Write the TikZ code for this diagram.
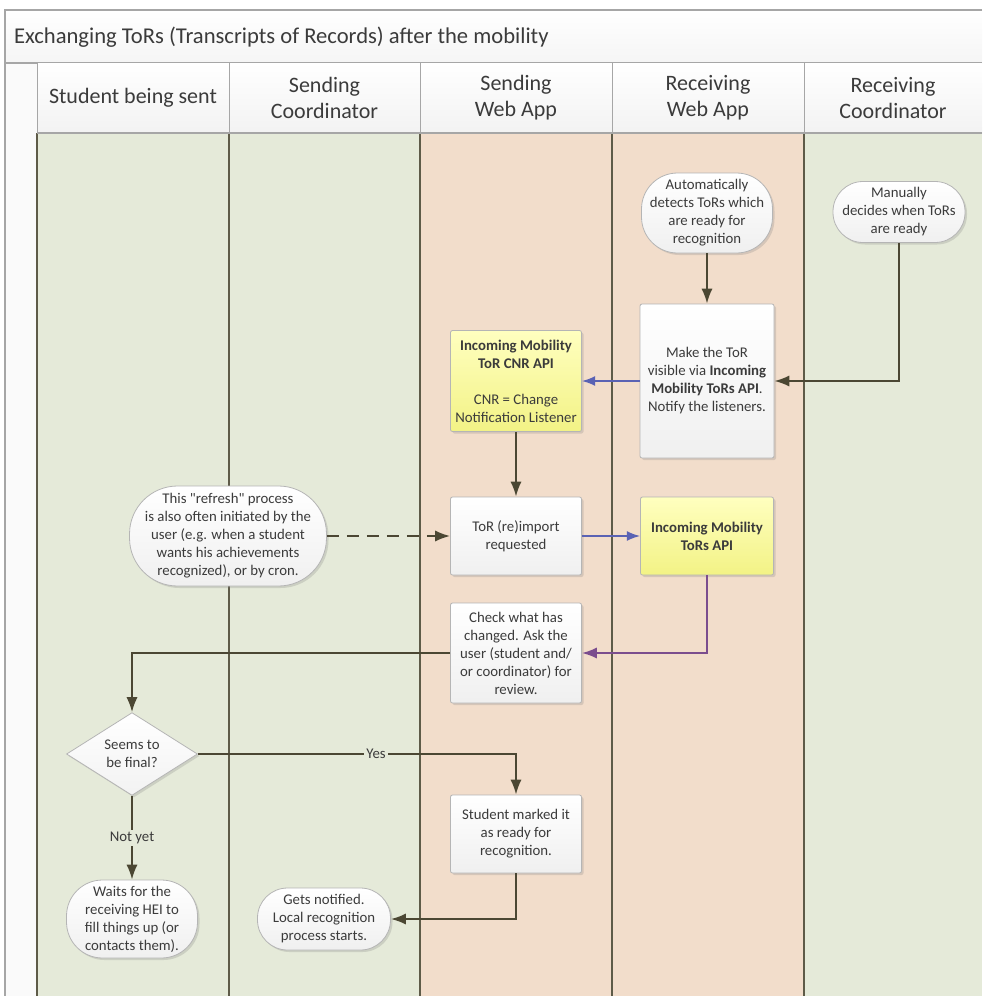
\documentclass[tikz,border=0pt]{standalone}
\usepackage{fontspec}
\setmainfont[Ligatures=TeXReset]{Carlito}
\usetikzlibrary{arrows.meta,positioning,shapes.geometric,shadows}
\definecolor{lanegreen}{HTML}{E5EAD9}
\definecolor{lanepeach}{HTML}{F2DDCB}
\definecolor{laneline}{HTML}{5E5B48}
\definecolor{framegray}{HTML}{A6A6A6}
\definecolor{boxline}{HTML}{B5B5B5}
\definecolor{flowcol}{HTML}{4B4733}
\definecolor{apiblue}{HTML}{5A62B4}
\definecolor{apipurple}{HTML}{7B4D8E}
\definecolor{txt}{HTML}{3B3B3B}

\begin{document}
\begin{tikzpicture}[
  x=0.5pt,y=-0.5pt,>=Latex,
  every node/.style={text=txt},
  hdr/.style={font=\fontsize{11}{13}\selectfont,align=center},
  box/.style={draw=boxline,rounded corners=1pt,top color=white,bottom color=gray!12,
    drop shadow={shadow xshift=1pt,shadow yshift=-1pt,opacity=.25},
    minimum width=65.5pt,align=center,inner sep=1.5pt,font=\fontsize{7.4}{9}\selectfont},
  api/.style={box,top color=yellow!25!white,bottom color=yellow!45!white!95!black},
  term/.style={box,rounded corners=15pt},
  decision/.style={diamond,draw=boxline,top color=white,bottom color=gray!10,
    drop shadow={shadow xshift=1pt,shadow yshift=-1pt,opacity=.25},
    minimum width=65.5pt,minimum height=39pt,inner sep=0pt,align=center,font=\fontsize{7.4}{9}\selectfont},
  flow/.style={->,line width=1pt,draw=flowcol},
  lbl/.style={fill=lanegreen,inner sep=1pt,font=\fontsize{7.4}{9}\selectfont}
]
\useasboundingbox (0,0) rectangle (982,996);
% title bar and left strip
\shade[top color=white,bottom color=gray!8] (5,10) rectangle (982,63);
\fill[gray!4] (5,63) rectangle (37,996);
\draw[framegray,line width=.8pt] (982,10) -- (5,10) -- (5,996);
\draw[framegray,line width=.8pt] (5,63) -- (982,63);
\node[anchor=west,font=\fontsize{11.3}{13}\selectfont] (title) at (7,37) {Exchanging ToRs (Transcripts of Records) after the mobility};
% lanes
\foreach \xa/\xb/\col/\lab [count=\i] in {37/229/lanegreen/{Student being sent},229/420/lanegreen/{Sending\\Coordinator},420/612/lanepeach/{Sending\\Web App},612/804/lanepeach/{Receiving\\Web App},804/982/lanegreen/{Receiving\\Coordinator}} {
  \fill[\col] (\xa,133) rectangle (\xb,996);
  \shade[top color=white,bottom color=gray!10] (\xa,63) rectangle (\xb,133);
  \node[hdr] (h\i) at ({(\xa+\xb)/2},98) {\lab};
  \draw[framegray] (\xa,63) -- (\xa,133);
  \draw[laneline,line width=.8pt] (\xa,133) -- (\xa,996);
}
\draw[framegray,line width=.8pt] (37,133) -- (982,133);

% receiving side
\node[term,minimum height=40pt,rounded corners=18pt] (auto) at (707,213) {Automatically\\detects ToRs which\\are ready for\\recognition};
\node[term,minimum width=66pt,minimum height=30.5pt] (manual) at (899,212) {Manually\\decides when ToRs\\are ready};
\node[box,minimum width=67pt,minimum height=77pt] (visible) at (707,381) {Make the ToR\\visible via \textbf{Incoming}\\\textbf{Mobility ToRs API}.\\Notify the listeners.};
\node[api,minimum height=50.5pt] (cnr) at (516,381) {\textbf{Incoming Mobility}\\\textbf{ToR CNR API}\\[9pt]CNR = Change\\Notification Listener};
\node[box,minimum height=39pt] (import) at (516,536) {ToR (re)import\\requested};
\node[api,minimum width=66.5pt,minimum height=39pt] (torsapi) at (707,536) {\textbf{Incoming Mobility}\\\textbf{ToRs API}};
\node[box,minimum height=50pt] (check) at (516,653) {Check what has\\changed. Ask the\\user (student and/\\or coordinator) for\\review.};
\node[term,minimum width=98.5pt,minimum height=50pt,rounded corners=24pt] (refresh) at (228,536) {This "refresh" process\\is also often initiated by the\\user (e.g. when a student\\wants his achievements\\recognized), or by cron.};
\node[decision] (final) at (132,754) {Seems to\\be final?};
\node[box,minimum height=39pt] (marked) at (516,834) {Student marked it\\as ready for\\recognition.};
\node[term,minimum height=39pt,rounded corners=18pt] (waits) at (132,919) {Waits for the\\receiving HEI to\\fill things up (or\\contacts them).};
\node[term,minimum width=66.5pt,minimum height=31pt] (notified) at (324,919) {Gets notified.\\Local recognition\\process starts.};

% connectors
\draw[flow] (auto) -- (visible);
\draw[flow] (manual.south) |- (visible.east);
\draw[flow,draw=apiblue,line width=.8pt] (visible) -- (cnr);
\draw[flow] (cnr) -- (import);
\draw[flow,draw=apiblue,line width=.8pt] (import) -- (torsapi);
\draw[flow,dashed,dash pattern=on 6pt off 4pt] (refresh) -- (import);
\draw[flow,draw=apipurple] (torsapi.south) |- (check.east);
\draw[flow] (check.west) -| (final.north);
\draw[flow] (final.east) -| node[lbl,pos=.28] (yes) {Yes} (marked.north);
\draw[flow] (final) -- node[lbl] (notyet) {Not yet} (waits);
\draw[flow] (marked.south) |- (notified.east);
\end{tikzpicture}
\end{document}
